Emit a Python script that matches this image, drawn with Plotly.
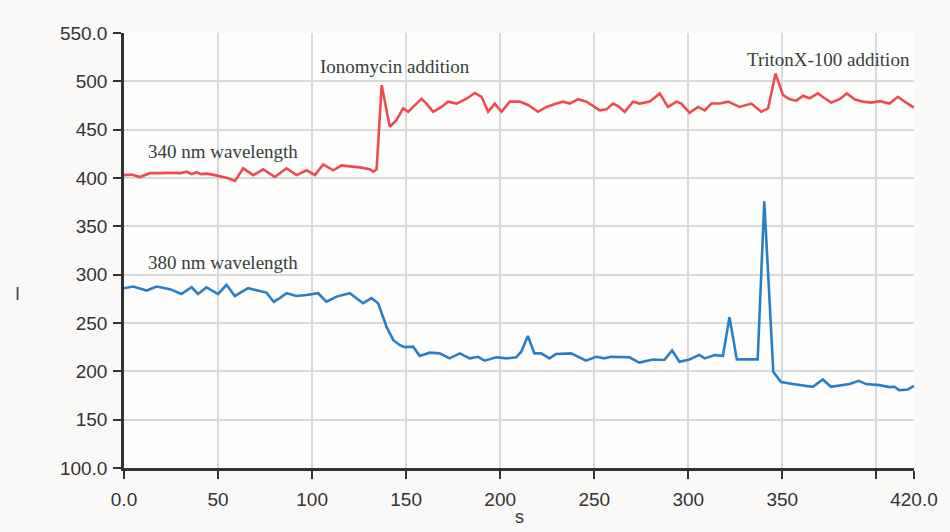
import plotly.graph_objects as go

# Fluorescence intensity traces (time in s)
t_340 = [0, 4, 8.5, 13.8, 20, 25, 29.8, 33.3, 36, 38.6, 41, 43.9, 47, 51, 55, 59,
         63.4, 68.7, 74, 80.2, 86.4, 91.8, 97.1, 101.5, 105.9, 111.2, 115.7, 120.1,
         125.4, 130.7, 132.5, 134.3, 137.0, 141.3, 144.9, 148.4, 151.1, 153.7, 158.2,
         160.8, 164.4, 168.8, 172.3, 176.8, 182.1, 186.5, 190.1, 193.6, 197.1, 200.7,
         205.1, 210.4, 214.8, 220.1, 224.6, 229.9, 233.4, 237, 241.4, 245.9, 252.9,
         256.5, 260, 262.7, 266.2, 270.6, 274.2, 279.5, 284.8, 289.2, 293.7, 296.3,
         300.7, 305.2, 308.7, 312.3, 316.7, 321.1, 327.3, 333.5, 338.8, 342.4, 346.4,
         350.3, 353.9, 357.4, 361, 364.5, 368.9, 372.5, 376, 380.4, 384.3, 388.4,
         392.8, 397.3, 401.7, 407, 411.4, 415, 419.4, 420]
i_340 = [403, 403.5, 401, 405, 405, 405.5, 405, 406.5, 404, 406, 404, 404.5, 403.5, 402, 400, 397,
         410, 403, 409, 401, 410, 403, 408, 403, 414, 408, 413, 412,
         411, 409, 406.5, 409, 496, 453, 460, 472, 468.5, 473.5, 482,
         477, 468.5, 473.5, 479, 477, 482, 488, 484, 468.5, 477, 468.5,
         479, 479, 475.5, 468.5, 473.5, 477, 479, 477, 481.5, 479, 470,
         471, 477, 474.5, 468.5, 479, 477, 479, 487.5, 473.5, 479, 477,
         467.5, 473.5, 470, 477, 477, 479, 473.5, 477, 468.5, 472, 508,
         486, 481.5, 480, 485, 482.5, 487.5, 482.5, 478, 481.5, 487.5, 481.5,
         479, 478, 479.5, 477, 484, 479, 473.5, 474]

t_380 = [0, 4.9, 12, 17.3, 24.4, 30.5, 35.9, 39.4, 43.8, 50, 54.5, 58.9, 66, 70.4, 75.7,
         79.6, 82.8, 86.4, 91.7, 97, 103.2, 107.6, 113, 120, 127.1, 131.6, 135.1, 139.6,
         143.1, 146.7, 149.3, 153.7, 157.2, 162.5, 167.8, 173.1, 178.5, 183.8, 188.2,
         191.7, 197.9, 203.2, 208.5, 211.2, 214.7, 218.2, 221.8, 226.2, 229.7, 237.7,
         245.6, 251, 255.4, 258.9, 263.4, 268.7, 274, 281.1, 287.3, 291.4, 295.3, 300.6,
         305.9, 308.7, 314, 318.4, 321.9, 325.8, 336.9, 340.4, 345.2, 349.3, 355.5,
         366.2, 371.5, 375.9, 385.7, 390.6, 394.5, 401.6, 406.9, 409.6, 412.2, 416.7, 420]
i_380 = [286, 287.7, 283.6, 287.7, 285, 280, 287, 280, 287, 280, 289.5, 278, 286, 283.6, 281.5,
         272, 275.7, 280.8, 278, 279, 280.8, 272, 277.3, 280.8, 270.5, 275.7, 270.5, 246,
         232.5, 227, 225, 225.5, 216, 219.3, 218.6, 213.4, 218.6, 213.4, 215,
         211, 214.5, 213.4, 214.5, 220.3, 236.6, 218.6, 218.6, 213.4, 218, 218.6,
         211, 215, 213.4, 215, 214.5, 214.5, 209, 212.3, 211.7, 221.5, 210, 212.3,
         217, 213.4, 216.8, 216, 256, 212.4, 212.4, 376, 199.5, 189, 186.8,
         184, 191.6, 184, 186.8, 190.2, 186.8, 185.7, 183.7, 184, 180.5, 181.2, 185]

x_ticks = [0, 50, 100, 150, 200, 250, 300, 350, 400, 420]
x_labels = ["0.0", "50", "100", "150", "200", "250", "300", "350", "", "420.0"]
y_ticks = [100, 150, 200, 250, 300, 350, 400, 450, 500, 550]
y_labels = ["100.0", "150", "200", "250", "300", "350", "400", "450", "500", "550.0"]

# (text, x, y, horizontal anchor)
notes = [
    ("340 nm wavelength", 11.7, 427, "left"),
    ("380 nm wavelength", 11.7, 313, "left"),
    ("Ionomycin addition", 103, 515, "left"),
    ("TritonX-100 addition", 419, 523, "right"),
]

fig = go.Figure()
fig.add_trace(go.Scatter(x=t_340, y=i_340, mode="lines",
                         line=dict(color="#ef4a52", width=2.6), name="340 nm"))
fig.add_trace(go.Scatter(x=t_380, y=i_380, mode="lines",
                         line=dict(color="#2a7fc4", width=2.6), name="380 nm"))

for text, x, y, anchor in notes:
    fig.add_annotation(x=x, y=y, text=text, showarrow=False, xanchor=anchor,
                       yanchor="middle",
                       font=dict(family="Liberation Serif", size=19, color="#34403c"))

# axis titles
fig.add_annotation(xref="paper", yref="paper", x=-0.141, y=0.40, text="I",
                   showarrow=False, font=dict(family="Liberation Sans", size=18, color="#444"))
fig.add_annotation(xref="paper", yref="paper", x=0.5, y=-0.113, text="s",
                   yanchor="middle", showarrow=False,
                   font=dict(family="Liberation Sans", size=18, color="#333"))

axis_common = dict(showgrid=True, gridcolor="#d9d9d9", gridwidth=1.5,
                   showline=True, linecolor="#333", linewidth=2.5,
                   ticks="outside", ticklen=8, tickwidth=2, tickcolor="#333",
                   tickfont=dict(family="Liberation Sans", size=19, color="#333"),
                   zeroline=False)

fig.update_xaxes(range=[0, 420], tickmode="array", tickvals=x_ticks, ticktext=x_labels,
                 ticklabelstandoff=4, **axis_common)
fig.update_yaxes(range=[100, 550], tickmode="array", tickvals=y_ticks, ticktext=y_labels,
                 ticklabelstandoff=2, **axis_common)

fig.update_layout(width=950, height=532, showlegend=False,
                  margin=dict(l=124, r=34, t=33, b=64),
                  paper_bgcolor="#fbf9f7", plot_bgcolor="#fdfdfc")

fig.write_html("out.html")
